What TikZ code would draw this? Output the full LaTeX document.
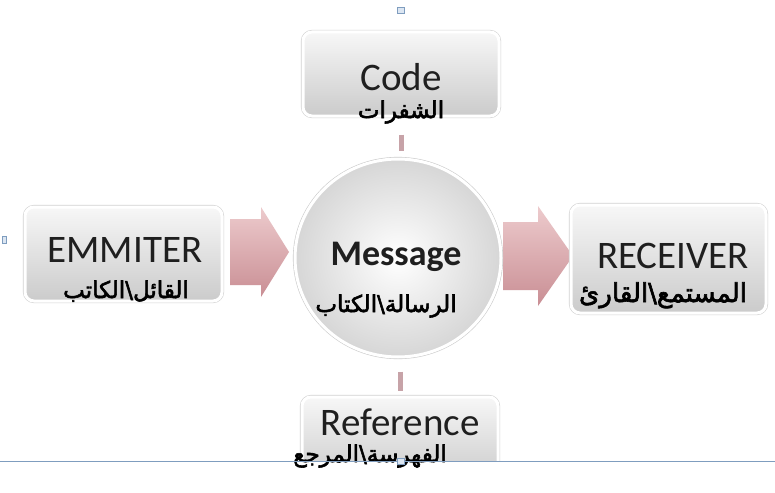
\documentclass[tikz,border=0pt]{standalone}
\usepackage{fontspec}
\setmainfont{Carlito}
\newfontfamily\arabicfont[Script=Arabic,FakeBold=2.5]{DejaVu Sans}
\TeXXeTstate=1
\usetikzlibrary{shapes.geometric,calc}
\definecolor{boxtop}{HTML}{F7F7F7}
\definecolor{boxbot}{HTML}{CBCBCB}
\definecolor{pinktop}{HTML}{EDCBCD}
\definecolor{pinkbot}{HTML}{C98E94}
\definecolor{barcol}{HTML}{C7A3A8}
\definecolor{handle}{HTML}{7F9DBF}
\definecolor{handlefill}{HTML}{DCE6F2}
\tikzset{
  boxstyle/.style={rectangle, rounded corners=9pt, top color=boxtop, bottom color=boxbot,
    draw=white, line width=3pt, preaction={draw=gray!35, line width=4.2pt}},
  circstyle/.style={ellipse, inner color=white, outer color=gray!32,
    draw=white, line width=3pt, preaction={draw=gray!40, line width=4.2pt}},
  entxt/.style={anchor=base, inner sep=0pt, font=\fontsize{39}{39}\selectfont, text=black!88},
  artxt/.style={anchor=base, inner sep=0pt, font=\arabicfont\fontsize{23}{23}\selectfont, text=black},
  pinkarrow/.style={top color=pinktop, bottom color=pinkbot, draw=none},
  barstyle/.style={draw=barcol, line width=5pt},
  handlebox/.style={draw=handle, fill=handlefill, line width=0.8pt, minimum width=7pt, minimum height=6pt, inner sep=0pt},
}
\begin{document}
\begin{tikzpicture}[x=1pt,y=-1pt]
\useasboundingbox (0,0) rectangle (775,492);
\fill[white] (0,0) rectangle (775,492);

% arrows (behind)
\shade[pinkarrow] (230,219) -- (261,219) -- (261,207) -- (289,252) -- (261,297) -- (261,285) -- (230,285) -- cycle;
\shade[pinkarrow] (503,222) -- (538,222) -- (538,206) -- (573,256) -- (538,306) -- (538,290) -- (503,290) -- cycle;

% boxes
\node[boxstyle, minimum width=196pt, minimum height=84pt] (code) at (401,74) {};
\node[boxstyle, minimum width=197pt, minimum height=94pt] (emit) at (123.5,254) {};
\node[boxstyle, minimum width=195pt, minimum height=108pt] (recv) at (668.5,259) {};
\begin{scope}
\clip (0,0) rectangle (775,461);
\node[boxstyle, minimum width=196pt, minimum height=84pt] (ref) at (400,439) {};
\end{scope}
\node[circstyle, minimum width=206pt, minimum height=198pt] (msg) at (398,258) {};

% connector bars (vertical)
\draw[barstyle] ([yshift=-17pt]code.south) -- ([yshift=7pt]code.south |- msg.north);
\draw[barstyle] ([yshift=-13pt]ref.north |- msg.south) -- ([yshift=5pt]ref.north);

% texts
\node[entxt] (codeEn) at (401,91) {Code};
\node[artxt] (codeAr) at (401,118) {\beginR الشفرات\endR};
\node[entxt] (emitEn) at (125,262) {EMMITER};
\node[artxt] (emitAr) at (126,298) {\beginR القائل\textbackslash الكاتب\endR};
\node[entxt, font=\bfseries\fontsize{36}{36}\selectfont] (msgEn) at (396,265) {Message};
\node[artxt] (msgAr) at (386,312) {\beginR الرسالة\textbackslash الكتاب\endR};
\node[entxt] (recvEn) at (673,268) {RECEIVER};
\node[artxt, font=\arabicfont\fontsize{26}{26}\selectfont] (recvAr) at (663,302) {\beginR المستمع\textbackslash القارئ\endR};
\node[entxt] (refEn) at (400,435) {Reference};
\node[artxt] (refAr) at (370,462) {\beginR الفهرسة\textbackslash المرجع\endR};

% canvas frame line and handles
\draw[handle, line width=1pt] (0,461) -- (775,461);
\node[handlebox] (h1) at (401,10) {};
\node[handlebox] (h2) at (401,461) {};
\node[handlebox, minimum width=4pt, minimum height=7pt] (h3) at (4,240) {};
\end{tikzpicture}
\end{document}
